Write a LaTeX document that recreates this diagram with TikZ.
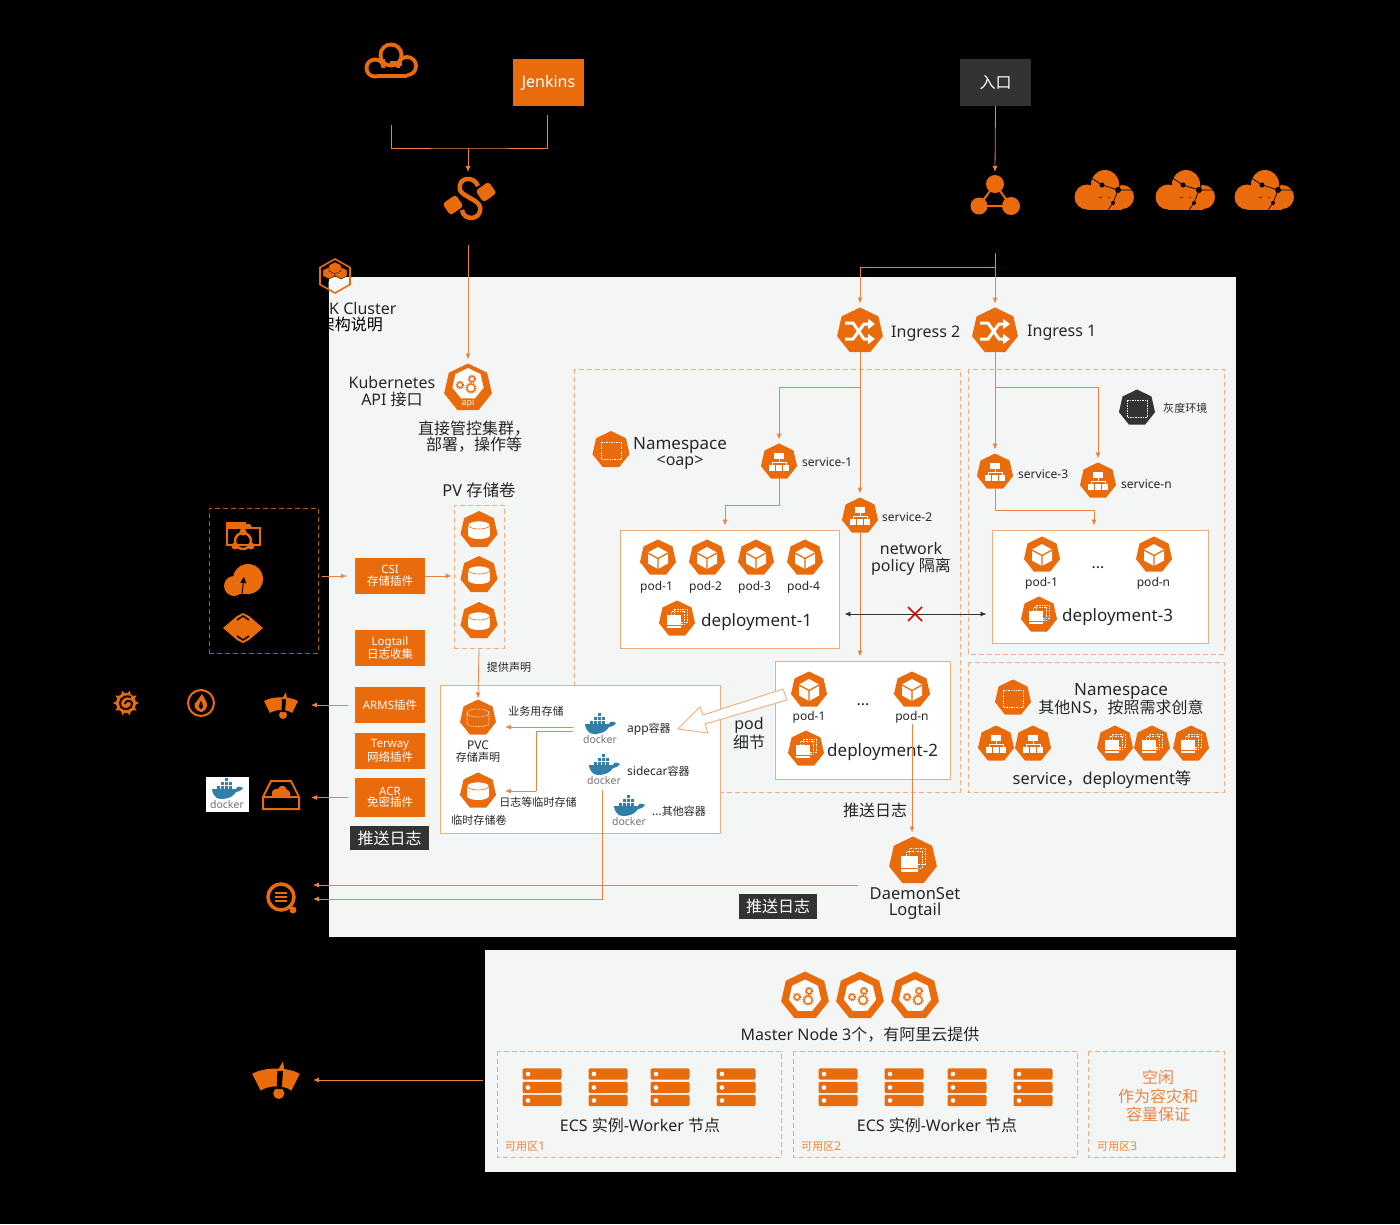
\documentclass[tikz,border=0pt]{standalone}
\usepackage{fontspec}
\setmainfont{Noto Sans}
\newfontfamily\cjk{Noto Sans CJK SC}
\newfontfamily\cjksm[Scale=0.92]{Noto Sans CJK SC}
\newcommand{\nsword}{{\fontsize{17}{16.5}\selectfont Namespace}}
\usetikzlibrary{shapes.geometric,arrows.meta}
\definecolor{aliorange}{HTML}{E96B0C}
\definecolor{wireorange}{HTML}{EA8440}
\definecolor{dashorange}{HTML}{F1AC7E}
\definecolor{panel}{HTML}{F4F6F6}
\definecolor{tagdark}{HTML}{333333}
\definecolor{dockblue}{HTML}{2F7FA8}
\definecolor{inktext}{HTML}{262626}
\tikzset{
  hept/.style={regular polygon,regular polygon sides=7,fill=aliorange,inner sep=0pt,outer sep=0pt,minimum size=#1},
  lbl/.style={font=\fontsize{16}{16.5}\selectfont,text=inktext,align=center,inner sep=0pt,yshift=-1.7pt},
  lblbig/.style={lbl,font=\fontsize{17}{16.5}\selectfont},
  lblsm/.style={font=\fontsize{12}{12}\selectfont,text=inktext,align=center,inner sep=0pt,yshift=-.5pt},
  plugbox/.style={fill=aliorange,text=white,font=\fontsize{11.5}{11.5}\selectfont,align=center,minimum width=70,inner sep=0pt},
  tagbox/.style={fill=tagdark,text=white,font=\fontsize{16}{16}\selectfont\cjk,inner sep=0pt},
  podbox/.style={draw=dashorange,fill=white,line width=.9pt,inner sep=0pt},
  nsdash/.style={draw=dashorange,line width=.7pt,dash pattern=on 5pt off 3pt},
  plain/.style={draw=wireorange,line width=.8pt},
  flow/.style={plain,shorten >=4pt,-{Latex[length=6pt,width=5pt]}},
  spot/.style={minimum size=#1,inner sep=0pt,outer sep=0pt},
  whitedash/.style={draw=white,line width=.6pt,dash pattern=on 1.5pt off 1pt},
  svcicon/.pic={
    \fill[white] (-5,-9) rectangle (5,-3.5);
    \draw[white,line width=.8pt] (0,-3.5)--(0,0.5) (-7,3)--(-7,0.5)--(7,0.5)--(7,3);
    \foreach \u in {-7,0,7} {\fill[white] (\u-2.8,3) rectangle (\u+2.8,8.5);}
  },
  podicon/.pic={
    \fill[white] (0,-11)--(10,-5.5)--(10,5.5)--(0,11)--(-10,5.5)--(-10,-5.5)--cycle;
    \draw[aliorange,line width=1.3pt] (0,0.5)--(0,11) (0,0.5)--(10,-5) (0,0.5)--(-10,-5);
  },
  deployicon/.pic={
    \draw[whitedash] (-3,-10) rectangle (10,3) (-5.5,-7.5) rectangle (7.5,5.5);
    \fill[white] (-10,-4) rectangle (4,9);
    \draw[aliorange,line width=.5pt] (-10,6)--(4,6);
  },
  nsicon/.pic={\draw[whitedash] (-10,-8) rectangle (10,9);},
  cylicon/.pic={
    \fill[white] (-11,-5) rectangle (11,5);
    \fill[white] (0,5) ellipse [x radius=11,y radius=4];
    \fill[white] (0,-5) ellipse [x radius=11,y radius=4];
    \draw[aliorange,line width=.6pt] (0,-5) ellipse [x radius=11,y radius=4];
  },
  pvcicon/.pic={
    \draw[whitedash] (0,-5) ellipse [x radius=11,y radius=4] (-11,-5)--(-11,5) (11,-5)--(11,5)
      (-11,5) .. controls (-11,10) and (11,10) .. (11,5);
  },
  ingicon/.pic={
    \draw[white,line width=3pt,-{Triangle[length=7pt,width=10pt]}] (-15,8)--(-7,8)--(4,-7)--(15,-7);
    \draw[white,line width=3pt,-{Triangle[length=7pt,width=10pt]}] (-15,-8)--(-7,-8)--(4,8)--(15,8);
  },
  gearpair/.pic={
    \foreach \u/\v/\r in {-8/0/2.6,4/-6/2.6,3/3/4} {
      \draw[aliorange,line width=1.1pt] (\u,\v) circle (\r);
      \draw[aliorange,line width=1.1pt,dash pattern=on 1pt off 1pt] (\u,\v) circle (\r+1.2);
    }
  },
  dockicon/.pic={
    \fill[dockblue] (-15,-1) -- (9,-1) .. controls (10,-4) and (13,-4) .. (16,-2) .. controls (14,1) and (11,2) .. (9,2)
      .. controls (5,9) and (-6,10) .. (-10,8) .. controls (-13,6) and (-15,2) .. (-15,-1) -- cycle;
    \foreach \u/\v in {-10/-4,-6/-4,-2/-4,2/-4,-6/-8,-2/-8,2/-8,-2/-12} {\fill[dockblue] (\u,\v) rectangle (\u+3.2,\v+3.2);}
    \node[font=\fontsize{10.5}{11}\selectfont,text=black!55,inner sep=0pt] at (0,14.5) {docker};
  },
  bigcloud/.pic={
    \fill[aliorange] (-17,7) circle (12.5);
    \fill[aliorange] (1,-6) circle (14);
    \fill[aliorange] (18,7) circle (12);
    \fill[aliorange] (-17,8) rectangle (18,19.5);
    \draw[black,line width=.7pt] (-14,-13)--(-2,-5)--(14,0)--(29,0) (18,-9)--(14,0)--(9,13)--(4,20);
    \fill[black] (14,0) circle (3);
    \fill[black] (-2,-5) circle (2.5);
    \fill[black] (9,13) circle (2);
  },
  ringcloud/.pic={
    \fill[aliorange] (-16,6) circle (10.5);
    \fill[aliorange] (0,-7) circle (12.5);
    \fill[aliorange] (16,4) circle (11);
    \fill[aliorange] (-16,6) rectangle (16,15.5);
    \fill[black] (-16,6) circle (6.5);
    \fill[black] (0,-7) circle (8.5);
    \fill[black] (16,4) circle (7);
    \fill[black] (-16,6) rectangle (16,11.5);
    \fill[aliorange] (-9,-3) rectangle (-6,3);
    \fill[aliorange] (-1,-1) rectangle (11,4);
  },
  cableicon/.pic={
    \draw[aliorange,line width=4.5pt] (8,-12) .. controls (4,-23) and (-13,-21) .. (-10,-8) .. controls (-8,-2) and (9,2) .. (10,9) .. controls (12,23) and (-7,23) .. (-8,12);
    \fill[aliorange,shift={(16,-6)},rotate=35,rounded corners=3pt] (-8,-7) rectangle (8,7);
    \fill[aliorange,shift={(-17,7)},rotate=35,rounded corners=3pt] (-8,-7) rectangle (8,7);
  },
  triadicon/.pic={
    \draw[aliorange,line width=2pt] (0,-13)--(-16,9)--(16,9)--cycle;
    \fill[aliorange] (0,-13) circle (9);
    \fill[aliorange] (-16,9) circle (8.5);
    \fill[aliorange] (16,9) circle (9);
  },
  gaugeicon/.pic={
    \fill[aliorange] (-17,-3) .. controls (-8,-8) and (8,-8) .. (17,-3) -- (11,9) .. controls (6,5) and (-5,5) .. (-11,9) -- cycle;
    \fill[aliorange] (1,-5)--(5,-12)--(6,-5)--cycle;
    \fill[aliorange] (2,11) circle (4);
    \fill[black] (1,-5)--(5,-5)--(4,8)--(0.5,8)--cycle;
  },
  spiralicon/.pic={
    \fill[aliorange] (0,0) circle (10);
    \foreach \a in {0,36,...,324} {\fill[aliorange] (\a-14:9)--(\a:13)--(\a+14:9)--cycle;}
    \draw[black,line width=2pt] (5,-6) .. controls (-4,-9) and (-8,-1) .. (-5,4) .. controls (-2,8) and (7,6) .. (6,0) .. controls (5,-3) and (-1,-3) .. (-1,1);
  },
  flameicon/.pic={
    \draw[aliorange,line width=2pt] (0,0) circle (13);
    \fill[aliorange] (0,9) .. controls (-8,7) and (-8,0) .. (-4,-2) .. controls (-3,-5) and (0,-6) .. (1,-9) .. controls (3,-5) and (7,0) .. (6,3) .. controls (5,7) and (2,9) .. (0,9) -- cycle;
    \fill[black] (0,6) .. controls (-3,5) and (-2,1) .. (0,-2) .. controls (2,1) and (3,5) .. (0,6) -- cycle;
  },
  logsicon/.pic={
    \draw[aliorange,line width=3.5pt] (0,0) circle (13);
    \draw[aliorange,line width=2pt] (-6,-4)--(6,-4) (-6,0)--(6,0) (-6,4)--(6,4);
    \fill[aliorange] (12,13) circle (3.5);
  },
  acricon/.pic={
    \draw[aliorange,line width=2pt] (-18,2)--(-10,-14)--(10,-14)--(18,2)--(18,14)--(-18,14)--cycle (-18,2)--(18,2);
    \fill[aliorange] (-9,1)--(-9,-3) .. controls (-7,-7) and (-4,-6) .. (-3,-6) .. controls (-1,-11) and (5,-10) .. (6,-5) .. controls (9,-5) and (10,-1) .. (9,1) -- cycle;
  },
  foldericon/.pic={
    \draw[aliorange,line width=2.5pt] (-16,-8) rectangle (17,9);
    \fill[aliorange] (-17,-14) rectangle (3,-9);
    \fill[aliorange] (3,-12)--(7,-12)--(9,-9)--(3,-9)--cycle;
    \draw[aliorange,line width=2.5pt] (0,5) circle (8);
    \fill[aliorange] (0,-4) circle (3.5);
    \fill[aliorange] (-8,10) circle (3.5);
    \fill[aliorange] (8,10) circle (3.5);
  },
  upcloudicon/.pic={
    \fill[aliorange] (-9,6) circle (10);
    \fill[aliorange] (5,-1) circle (15);
    \fill[aliorange] (-9,6) rectangle (5,14);
    \draw[black,line width=1pt,-{Triangle[length=6pt,width=6pt]}] (-1,14)--(1,-3);
  },
  diamondicon/.pic={
    \fill[aliorange] (-20,0)--(-6,-12)--(0,-15)--(6,-12)--(20,0)--(6,12)--(0,15)--(-6,12)--cycle;
    \draw[black,line width=1.5pt] (-6,-8)--(0,-12)--(6,-8) (-6,8)--(0,12)--(6,8);
  },
  ackicon/.pic={
    \draw[aliorange,line width=1.6pt] (0,-17)--(15,-8.5)--(15,8.5)--(0,17)--(-15,8.5)--(-15,-8.5)--cycle;
    \foreach \u/\v in {-6/-3,6/-3,0/-8} {\filldraw[fill=aliorange,draw=black,line width=.4pt] (\u,\v-6)--(\u+6,\v-3)--(\u+6,\v+3)--(\u,\v+6)--(\u-6,\v+3)--(\u-6,\v-3)--cycle;}
    \draw[white,line width=.8pt] (0,3)--(6,6)--(6,12)--(0,15)--(-6,12)--(-6,6)--cycle (-6,6)--(0,9)--(6,6) (0,9)--(0,15);
  },
}
\begin{document}
\begin{tikzpicture}[x=1pt,y=-1pt]
\useasboundingbox (0,0) rectangle (1400,1224);
\fill[black] (0,0) rectangle (1400,1224);
\fill[panel] (329,277) rectangle (1236,937);
\fill[panel] (485,950) rectangle (1236,1172);

% top row
\coordinate (gitcloud) at (391,62);
\pic at (gitcloud) {ringcloud};
\node[fill=aliorange,text=white,font=\fontsize{16}{17}\selectfont,minimum width=71,minimum height=47,inner sep=0pt] (jenkins) at (548.5,82.5) {Jenkins};
\node[fill=tagdark,text=white,font=\fontsize{16}{17}\selectfont\cjk,minimum width=71,minimum height=47,inner sep=0pt] (entry) at (995.5,82.5) {入口};
\node[spot=52] (cable) at (470,198) {};
\pic at (cable) {cableicon};
\node[spot=50] (triad) at (995,197) {};
\pic at (triad) {triadicon};
\foreach \x in {1104,1185,1264} {\pic at (\x,190) {bigcloud};}
\coordinate (gitout) at (391,125);
\coordinate (merge) at (468,148);
\coordinate (cableout) at (468,245);
\coordinate (triadout) at (995,253);
\coordinate (triadsplit) at (995,267);
\coordinate (jenkinsout) at (547,115);
\draw[plain] (gitout) |- (merge) -| (jenkinsout);
\draw[flow,shorten >=0pt] (merge) -- (merge |- cable.north);
\draw[flow,shorten >=0pt] (entry.south) -- (triad.north);

% cluster title
\pic at (335,276) {ackicon};
\node[lbl,anchor=west] (acktitle) at (329,307) {K Cluster};
\node[lbl,anchor=east,text=black] (acksub) at (383,323) {\cjk 架构说明};

% namespaces
\draw[nsdash] (574,369) rectangle (960,792);
\draw[nsdash] (968,369) rectangle (1224,654);
\draw[nsdash] (968,662) rectangle (1224,792);

% ingress
\node[hept=47] (ing2) at (860,331) {};
\node[hept=47] (ing1) at (995,331) {};
\pic at (ing2) {ingicon};
\pic at (ing1) {ingicon};
\node[lbl,anchor=west] (ing2lbl) at (891,331.5) {Ingress 2};
\node[lbl,anchor=west] (ing1lbl) at (1027,331.5) {Ingress 1};
\draw[flow] (triadout) -- (ing1.north);
\draw[flow] (triadsplit) -| (ing2.north);

% api and left column
\node[hept=49] (api) at (468,388) {};
\node[hept=32,fill=white] (apiin) at (468,384) {};
\pic at (468,385) {gearpair};
\node[font=\fontsize{9}{9}\selectfont,text=white,inner sep=0pt] (apitxt) at (468,403) {api};
\draw[flow] (cableout) -- (api.north);
\node[lbl] (apilbl) at (392,390) {Kubernetes\\API {\cjk 接口}};
\node[lbl,font=\fontsize{16}{16}\selectfont\cjk] (apinote) at (474,435) {直接管控集群，\\部署，操作等};

\node[lbl,font=\fontsize{16.4}{17}\selectfont] (pvlbl) at (479,489) {PV {\cjk 存储卷}};
\node[nsdash,minimum width=50,minimum height=143,inner sep=0pt] (pvbox) at (479,576.5) {};
\foreach \y/\n in {530/a,575/b,621/c} {
  \node[hept=38] (pv\n) at (479,\y) {};
  \pic at (pv\n) {cylicon};
}
\node[draw=aliorange!80!black,line width=.8pt,dash pattern=on 5pt off 3pt,minimum width=109,minimum height=145,inner sep=0pt] (csidash) at (263.5,580.5) {};
\pic at (243,536) {foldericon};
\pic at (243,580) {upcloudicon};
\pic at (243,628) {diamondicon};

\node[plugbox,minimum height=36] (csi) at (390,576) {CSI\\{\cjk 存储插件}};
\node[plugbox,minimum height=36] (logtail) at (390,648) {Logtail\\{\cjk 日志收集}};
\node[plugbox,minimum height=36] (arms) at (390,705) {ARMS{\cjk 插件}};
\node[plugbox,minimum height=36] (terway) at (390,751) {Terway\\{\cjk 网络插件}};
\node[plugbox,minimum height=39] (acr) at (390,797.5) {ACR\\{\cjk 免密插件}};
\node[tagbox,minimum width=79,minimum height=24] (tagleft) at (389.5,838) {推送日志};
\draw[flow,shorten <=4pt,shorten >=8pt] (csidash.east |- csi.west) -- (csi.west);
\draw[flow,shorten >=2pt] (csi.east) -- (csi.east -| pvbox.west);

% icons on the left
\pic at (126,703) {spiralicon};
\pic at (201,703) {flameicon};
\node[spot=52] (armsico) at (281,704) {};
\pic at (armsico) {gaugeicon};
\node[fill=white,minimum width=43,minimum height=35,inner sep=0pt] (dockimg) at (227.5,794.5) {};
\pic at (227,790) {dockicon};
\node[spot=52] (acrico) at (281,797) {};
\pic at (281,795) {acricon};
\node[spot=56] (logsico) at (281,897) {};
\pic at (logsico) {logsicon};
\draw[flow,shorten <=7pt] (arms.west) -- (arms.west -| armsico.east);
\draw[flow,shorten <=7pt] (acr.west) -- (acr.west -| acrico.east);

% oap namespace
\node[hept=38] (nsoap) at (611,450) {};
\pic at (nsoap) {nsicon};
\node[lbl] (nsoaplbl) at (680,451.5) {\nsword\\<oap>};
\node[hept=37] (svc1) at (779,462) {};
\node[hept=37] (svc2) at (860,516) {};
\pic at (svc1) {svcicon};
\pic at (svc2) {svcicon};
\node[lblsm,anchor=west] (svc1lbl) at (802,462) {service-1};
\node[lblsm,anchor=west] (svc2lbl) at (882,517) {service-2};
\node[lbl] (netlbl) at (911,557) {network\\policy {\cjk 隔离}};

\node[podbox,minimum width=219,minimum height=118] (dep1) at (729.5,589) {};
\foreach \x/\n in {658/1,707/2,756/3,805/4} {
  \node[hept=37] (onepod\n) at (\x,558) {};
  \pic at (onepod\n) {podicon};
  \node[lblsm] (onepodlbl\n) at (\x-1.5,586.5) {pod-\n};
}
\node[hept=37] (dep1ico) at (677,619) {};
\pic at (dep1ico) {deployicon};
\node[lblbig,anchor=west] (dep1lbl) at (701,620) {deployment-1};

\node[podbox,minimum width=175,minimum height=118] (dep2) at (862.5,720) {};
\foreach \x/\n in {809/1,912/n} {
  \node[hept=37] (twopod\n) at (\x,690) {};
  \pic at (twopod\n) {podicon};
  \node[lblsm] (twopodlbl\n) at (\x,717) {pod-\n};
}
\node[lbl] (twodots) at (863,703) {...};
\node[hept=37] (dep2ico) at (806,749) {};
\pic at (dep2ico) {deployicon};
\node[lblbig,anchor=west] (dep2lbl) at (827,750) {deployment-2};

% gray environment
\node[hept=37,fill=tagdark] (grayico) at (1137,408) {};
\pic at (grayico) {nsicon};
\node[lblsm,anchor=west] (graylbl) at (1163,408) {\cjksm 灰度环境};
\node[hept=37] (svc3) at (995,472) {};
\node[hept=37] (svcn) at (1098,481) {};
\pic at (svc3) {svcicon};
\pic at (svcn) {svcicon};
\node[lblsm,anchor=west] (svc3lbl) at (1018,474) {service-3};
\node[lblsm,anchor=west] (svcnlbl) at (1121,484) {service-n};

\node[podbox,minimum width=216,minimum height=113] (dep3) at (1100,586.5) {};
\foreach \x/\n in {1042/1,1154/n} {
  \node[hept=37] (threepod\n) at (\x,555) {};
  \pic at (threepod\n) {podicon};
  \node[lblsm] (threepodlbl\n) at (\x-.5,583) {pod-\n};
}
\node[lbl] (threedots) at (1098,566) {...};
\node[hept=37] (dep3ico) at (1039,615) {};
\pic at (dep3ico) {deployicon};
\node[lblbig,anchor=west] (dep3lbl) at (1062,615) {deployment-3};

% other namespaces
\node[hept=37] (nsother) at (1013,698) {};
\pic at (nsother) {nsicon};
\node[lbl] (nsotherlbl) at (1121,697.5) {\nsword\\{\cjk 其他NS，按照需求创意}};
\foreach \x/\n in {996/a,1033/b} {
  \node[hept=37] (othersvc\n) at (\x,744) {};
  \pic at (othersvc\n) {svcicon};
}
\foreach \x/\n in {1115/a,1152/b,1191/c} {
  \node[hept=37] (otherdep\n) at (\x,744) {};
  \pic at (otherdep\n) {deployicon};
}
\node[lbl,font=\fontsize{16.4}{17}\selectfont] (otherlbl) at (1102,778) {service{\cjk ，}deployment{\cjk 等}};

% pod detail
\fill[white] (440,685) rectangle (720,833);
\draw[draw=dashorange,line width=.9pt] (440,685) rectangle (720,833);
\node[hept=37] (pvc) at (478,718) {};
\pic at (pvc) {pvcicon};
\node[hept=37] (tmpvol) at (478,791) {};
\pic at (tmpvol) {cylicon};
\node[lblsm] (pvclbl) at (478,751) {PVC\\{\cjksm 存储声明}};
\node[lblsm] (tmplbl) at (479,820) {\cjksm 临时存储卷};
\node[lblsm] (bizlbl) at (536,711) {\cjksm 业务用存储};
\node[lblsm] (loglbl) at (538,802) {\cjksm 日志等临时存储};
\node[lblsm] (declbl) at (509,667) {\cjksm 提供声明};
\pic at (600,725) {dockicon};
\pic at (604,766) {dockicon};
\pic at (629,807) {dockicon};
\node[lblsm,anchor=west] (applbl) at (627,729) {app{\cjksm 容器}};
\node[lblsm,anchor=west] (sidelbl) at (627,771) {sidecar{\cjksm 容器}};
\node[lblsm,anchor=west] (etclbl) at (652,811) {...{\cjksm 其他容器}};
\coordinate (applink) at (573,727);
\coordinate (applinkb) at (573,731);
\coordinate (tmpbend) at (536,791);
\draw[flow,shorten >=1pt] (pvbox.south) -- (pvc.north);
\draw[flow,shorten >=10pt] (applink) -- (applink -| pvc.east);
\draw[plain] (applinkb) -| (tmpbend);
\draw[flow,shorten >=10pt] (tmpbend) -- (tmpvol.east);
\filldraw[fill=white,draw=dashorange,line width=.9pt] (678,729)--(700,707)--(703,715)--(783,689)--(787,700)--(705,724)--(708,733)--cycle;
\node[lbl] (podlbl) at (749,732) {pod\\{\cjk 细节}};

% connectors inside the namespaces
\coordinate (oapsplit) at (860,387);
\coordinate (graysplit) at (995,387);
\coordinate (dep1in) at (725,505);
\coordinate (dep3in) at (1094,510);
\draw[flow] (ing2.south) -- (svc2.north);
\draw[flow] (oapsplit) -| (svc1.north);
\draw[plain] (svc1.south) |- (dep1in);
\draw[flow] (dep1in) -- (dep1in |- dep1.north);
\draw[flow] (svc2.south) -- (svc2.south |- dep2.north);
\draw[flow] (ing1.south) -- (svc3.north);
\draw[flow] (graysplit) -| (svcn.north);
\draw[plain] (svc3.south) |- (dep3in);
\draw[flow] (dep3in) -- (dep3in |- dep3.north);
\coordinate (blockmark) at (915,614);
\draw[tagdark,line width=.8pt,shorten <=5pt,shorten >=5pt,{Latex[length=6pt,width=5pt]}-{Latex[length=6pt,width=5pt]}] (dep1.east |- blockmark) -- (dep3.west |- blockmark);
\draw[red!85!black,line width=1.5pt] (908,607)--(922,621) (922,607)--(908,621);

% logtail
\node[hept=49] (logds) at (913,861) {};
\pic[scale=1.25] at (logds) {deployicon};
\node[lbl,font=\fontsize{16.5}{16.5}\selectfont] (logdslbl) at (915,902) {DaemonSet\\Logtail};
\node[lbl,font=\fontsize{16}{16.5}\selectfont\cjk] (pushlbl) at (875,809) {推送日志};
\node[tagbox,minimum width=78,minimum height=25] (tagmid) at (778,906.5) {推送日志};
\coordinate (podnout) at (912,724);
\coordinate (dsleft) at (858,885);
\coordinate (sideout) at (602,790);
\coordinate (loglow) at (309,899);
\draw[flow] (podnout) -- (podnout |- logds.north);
\draw[flow] (dsleft) -- (dsleft -| logsico.east);
\draw[flow] (sideout) |- (loglow);

% master and workers
\foreach \x/\n in {805/a,860/b,915/c} {
  \node[hept=49] (master\n) at (\x,996) {};
  \node[hept=33,fill=white] (masterin\n) at (\x,996) {};
  \pic at (\x,997) {gearpair};
}
\node[lbl] (masterlbl) at (860,1033) {Master Node 3{\cjk 个，有阿里云提供}};
\draw[nsdash] (497,1051) rectangle (781,1157);
\draw[nsdash] (793,1051) rectangle (1077,1157);
\draw[nsdash] (1088,1051) rectangle (1224,1157);
\foreach \x in {542,608,670,736,838,904,967,1033} {
  \foreach \y in {1074,1087.5,1100.5} {
    \fill[aliorange,rounded corners=2pt] (\x-19.5,\y-5.7) rectangle (\x+19.5,\y+5.7);
    \fill[white] (\x-14,\y) circle (2.3);
  }
}
\node[lbl] (ecsa) at (640,1124) {ECS {\cjk 实例}-Worker {\cjk 节点}};
\node[lbl] (ecsb) at (937,1124) {ECS {\cjk 实例}-Worker {\cjk 节点}};
\node[lblsm,text=wireorange,anchor=west] (zonea) at (505,1146) {{\cjksm 可用区}1};
\node[lblsm,text=wireorange,anchor=west] (zoneb) at (801,1146) {{\cjksm 可用区}2};
\node[lblsm,text=wireorange,anchor=west] (zonec) at (1097,1146) {{\cjksm 可用区}3};
\node[lbl,text=wireorange,font=\fontsize{16}{18.5}\selectfont\cjk] (sparelbl) at (1158,1094.5) {空闲\\作为容灾和\\容量保证};
\node[spot=52] (armsbig) at (276,1080) {};
\pic[scale=1.4] at (276,1078) {gaugeicon};
\coordinate (workerout) at (483,1080);
\draw[flow,shorten >=11pt] (workerout) -- (armsbig.east);
\end{tikzpicture}
\end{document}
